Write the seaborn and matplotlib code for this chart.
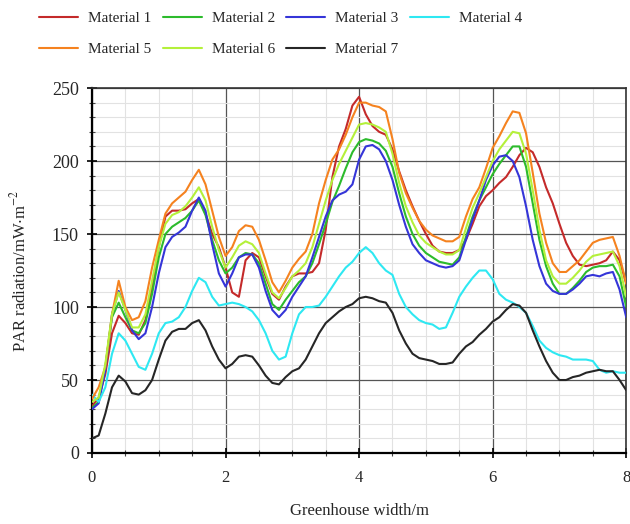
import numpy as np
import pandas as pd
import matplotlib
matplotlib.use("Agg")
import matplotlib.pyplot as plt
from matplotlib.ticker import MultipleLocator
import seaborn as sns

x = [round(i * 0.1, 1) for i in range(81)]

m1 = [32, 38, 54, 82, 94, 89, 82, 81, 91, 114,
      141, 162, 166, 166, 167, 171, 174, 164, 150, 141,
      127, 110, 107, 132, 137, 134, 121, 109, 105, 114,
      121, 123, 123, 124, 130, 153, 189, 210, 222, 238,
      244, 232, 224, 220, 218, 208, 193, 180, 169, 159,
      150, 142, 138, 137, 137, 139, 146, 157, 169, 176,
      180, 185, 189, 196, 204, 209, 206, 196, 182, 171,
      157, 144, 135, 129, 128, 129, 130, 132, 138, 132, 116]
m2 = [31, 35, 59, 93, 103, 93, 84, 82, 89, 109,
      134, 150, 155, 158, 161, 166, 173, 163, 146, 132,
      123, 127, 134, 137, 136, 130, 116, 102, 98, 105,
      111, 117, 121, 130, 143, 157, 172, 183, 195, 206,
      213, 215, 214, 212, 207, 196, 178, 162, 150, 142,
      137, 134, 131, 130, 129, 134, 148, 162, 173, 182,
      191, 198, 204, 210, 210, 196, 171, 146, 128, 116,
      109, 109, 113, 118, 124, 127, 128, 128, 129, 121, 100]
m3 = [30, 34, 57, 95, 111, 98, 84, 78, 82, 100,
      123, 141, 148, 151, 155, 166, 175, 166, 143, 123,
      114, 123, 134, 136, 136, 127, 111, 98, 93, 98,
      107, 114, 121, 134, 148, 162, 173, 177, 179, 184,
      201, 210, 211, 208, 200, 187, 170, 155, 143, 137,
      132, 130, 128, 127, 128, 132, 146, 160, 173, 187,
      197, 203, 204, 200, 189, 169, 146, 128, 116, 111,
      109, 109, 112, 116, 121, 122, 121, 123, 124, 112, 93]
m4 = [40, 35, 45, 68, 82, 77, 68, 59, 57, 68,
      82, 89, 90, 93, 100, 111, 120, 117, 107, 101,
      102, 103, 102, 100, 97, 91, 82, 70, 64, 66,
      82, 95, 100, 100, 101, 107, 114, 121, 127, 131,
      137, 141, 137, 130, 125, 122, 109, 100, 95, 91,
      89, 88, 85, 86, 96, 107, 114, 120, 125, 125,
      119, 109, 105, 103, 100, 96, 87, 77, 72, 69,
      67, 66, 64, 64, 64, 63, 57, 55, 56, 55, 55]
m5 = [37, 45, 59, 95, 118, 100, 91, 93, 104, 127,
      146, 164, 171, 175, 179, 187, 194, 184, 166, 148,
      135, 141, 152, 156, 155, 146, 132, 117, 110, 118,
      127, 133, 138, 150, 171, 187, 201, 208, 218, 230,
      240, 240, 238, 237, 234, 215, 192, 178, 168, 159,
      153, 149, 147, 145, 145, 148, 162, 174, 182, 195,
      209, 217, 226, 234, 233, 219, 192, 164, 144, 130,
      124, 124, 128, 132, 138, 144, 146, 147, 148, 135, 116]
m6 = [35, 38, 61, 95, 110, 98, 86, 86, 95, 118,
      141, 157, 163, 165, 169, 175, 182, 173, 155, 139,
      127, 134, 142, 145, 143, 137, 123, 110, 106, 113,
      121, 125, 130, 141, 157, 173, 187, 198, 207, 216,
      225, 226, 225, 223, 220, 205, 185, 169, 158, 149,
      144, 141, 138, 136, 136, 139, 154, 168, 178, 189,
      200, 208, 214, 220, 219, 205, 180, 153, 132, 121,
      116, 116, 120, 125, 131, 135, 136, 137, 138, 128, 107]
m7 = [10, 12, 27, 45, 53, 49, 41, 40, 43, 50,
      64, 77, 83, 85, 85, 89, 91, 84, 73, 64,
      58, 61, 66, 67, 66, 60, 53, 48, 47, 52,
      56, 58, 64, 73, 82, 89, 93, 97, 100, 102,
      106, 107, 106, 104, 103, 96, 84, 75, 68, 65,
      64, 63, 61, 61, 62, 68, 73, 76, 81, 85,
      90, 93, 98, 102, 101, 96, 84, 73, 63, 55,
      50, 50, 52, 53, 55, 56, 57, 56, 56, 50, 43]

names = ["Material 1", "Material 2", "Material 3", "Material 4",
         "Material 5", "Material 6", "Material 7"]
series = [m1, m2, m3, m4, m5, m6, m7]
colors = ["#c42a2a", "#2cbb2c", "#3535d8", "#2ee8f2",
          "#f5821f", "#b4f03a", "#262626"]

df = pd.concat([pd.DataFrame({"x": x, "v": s, "Material": n})
                for n, s in zip(names, series)], ignore_index=True)

sns.set_theme(style="white")
plt.rcParams["font.family"] = ["Liberation Serif", "DejaVu Serif"]
plt.rcParams["mathtext.fontset"] = "stix"

fig = plt.figure(figsize=(6.3, 5.24), dpi=100)
ax = fig.add_axes([0.146, 0.1355, 0.848, 0.6965])

sns.lineplot(data=df, x="x", y="v", hue="Material", palette=colors,
             linewidth=1.5, ax=ax, sort=False, zorder=3)

ax.set_xlim(0, 8)
ax.set_ylim(0, 250)
ax.xaxis.set_major_locator(MultipleLocator(2))
ax.xaxis.set_minor_locator(MultipleLocator(0.5))
ax.yaxis.set_major_locator(MultipleLocator(50))
ax.yaxis.set_minor_locator(MultipleLocator(10))
ax.grid(which="minor", color="#e2e2e2", linewidth=0.8, zorder=0)
ax.grid(which="major", color="#555555", linewidth=0.9, zorder=1)
ax.set_axisbelow(True)

ax.tick_params(which="major", direction="inout", length=7, width=1.2,
               labelsize=12, color="black", bottom=True, left=True)
ax.tick_params(which="minor", direction="inout", length=4, width=0.8,
               color="#444444", bottom=True, left=True)
ax.tick_params(axis="x", pad=9)
ax.tick_params(axis="y", labelsize=13, pad=6)

for side in ["left", "bottom"]:
    ax.spines[side].set_color("black")
    ax.spines[side].set_linewidth(1.6)
for side in ["top", "right"]:
    ax.spines[side].set_color("#333333")
    ax.spines[side].set_linewidth(1.2)

ax.set_xlabel("Greenhouse width/m", fontsize=12, labelpad=12)
ax.set_ylabel(r"PAR radiation/mW$\cdot$m$^{-2}$", fontsize=12, labelpad=16)

handles, labels = ax.get_legend_handles_labels()
ax.get_legend().remove()
order = [0, 4, 1, 5, 2, 6, 3]
fig.legend([handles[i] for i in order], [labels[i] for i in order],
           loc="upper left", bbox_to_anchor=(0.045, 0.998), ncol=4,
           frameon=False, fontsize=11, handlelength=2.55,
           handletextpad=0.65, columnspacing=0.75, labelspacing=1.1,
           borderpad=0.2)

fig.savefig("out.png", dpi=100)
